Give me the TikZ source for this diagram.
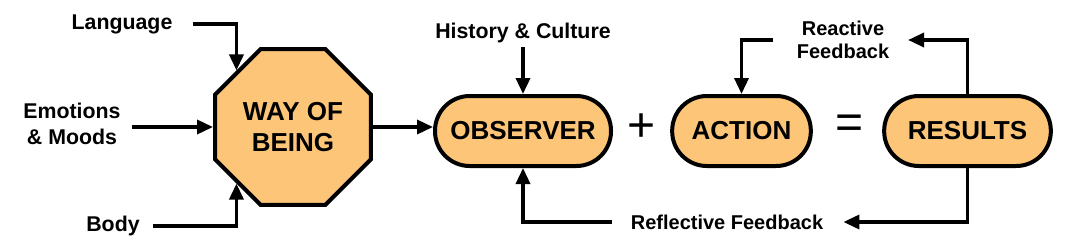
\documentclass[tikz,border=0pt]{standalone}
\usepackage{fontspec}
\setmainfont{Liberation Sans}
\usetikzlibrary{positioning,arrows.meta,shapes.geometric}
\definecolor{boxfill}{RGB}{253,197,120}

\begin{document}
\begin{tikzpicture}[
  x=0.75pt, y=-0.75pt,
  pill/.style={
    draw, line width=3pt, fill=boxfill,
    rounded corners=26pt, minimum height=52.5pt,
    inner sep=0pt, font=\bfseries\fontsize{19.5}{23}\selectfont
  },
  octa/.style={
    draw, line width=3pt, fill=boxfill,
    regular polygon, regular polygon sides=8,
    minimum size=126.6pt, inner sep=0pt, align=center,
    font=\bfseries\fontsize{19.5}{23}\selectfont
  },
  lbl/.style={font=\bfseries\fontsize{16}{19.5}\selectfont, align=center, inner sep=0pt},
  fb/.style={font=\bfseries\fontsize{15}{17}\selectfont, align=center, inner sep=0pt},
  sym/.style={font=\fontsize{36}{36}\selectfont, inner sep=0pt},
  conn/.style={line width=2.6pt, -{Triangle[length=12pt,width=10.5pt]}}
]
\useasboundingbox (0,0) rectangle (1067,251);

\node[octa] (being) at (293,127) {WAY OF\\BEING};

\node[pill, minimum width=132pt] (observer) at (523,131) {OBSERVER};
\node[pill, minimum width=104pt] (action) at (741.5,131) {ACTION};
\node[pill, minimum width=125pt] (results) at (967.5,131) {RESULTS};

\node[sym] (plus) at (642,128) {+};
\node[sym] (equals) at (850,127) {=};

\node[lbl] (language) at (122,24) {Language};
\node[lbl] (emotions) at (72,124) {Emotions\\\& Moods};
\node[lbl] (body) at (113,226) {Body};
\node[lbl] (history) at (523,33) {History \& Culture};

\node[fb] (reactive) at (843,40) {Reactive\\Feedback};
\node[fb] (reflective) at (727,222) {Reflective Feedback};

% inputs to way of being
\draw[conn, shorten <=15pt] (language.east) -| (being.north west);
\draw[conn, shorten <=8pt] (emotions.east |- being.west) -- (being.west);
\draw[conn, shorten <=10pt] (body.east) -| (being.south west);

\draw[conn] (being.east) -- (being.east -| observer.west);
\draw[conn, shorten <=3pt] (history.south) -- (observer.north);

% feedback loops
\draw[conn, shorten >=14pt] (results.north) |- (reactive.east);
\draw[conn, shorten <=18pt] (reactive.west) -| (action.north);
\draw[conn, shorten >=15pt] (results.south) |- (reflective.east);
\draw[conn, shorten <=14pt] (reflective.west) -| (observer.south);

\end{tikzpicture}
\end{document}
